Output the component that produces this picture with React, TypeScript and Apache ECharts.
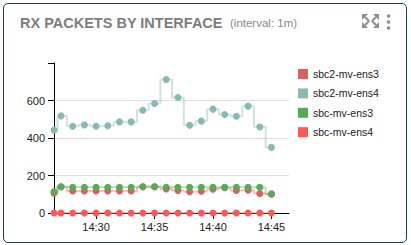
import React, { useEffect, useRef } from "react";
import * as echarts from "echarts";

// ---- data ----
const times = [
  "14:26:24", "14:27", "14:28", "14:29", "14:30", "14:31", "14:32", "14:33", "14:34", "14:35",
  "14:36", "14:37", "14:38", "14:39", "14:40", "14:41", "14:42", "14:43", "14:44", "14:45",
];
const seriesNames = ["sbc2-mv-ens3", "sbc2-mv-ens4", "sbc-mv-ens3", "sbc-mv-ens4"];
const sbc2Ens3 = [105, 140, 117, 117, 117, 117, 117, 117, 140, 140, 128, 120, 113, 116, 127, 135, 120, 122, 104, 100];
const sbc2Ens4 = [442, 518, 463, 470, 463, 465, 486, 486, 548, 584, 712, 616, 468, 490, 554, 525, 516, 570, 459, 350];
const sbcEns3 = [113, 140, 137, 137, 137, 137, 137, 137, 140, 140, 137, 137, 137, 137, 137, 137, 137, 137, 137, 103];
const sbcEns4 = [0, 0, 0, 0, 0, 0, 0, 0, 0, 0, 0, 0, 0, 0, 0, 0, 0, 0, 0, 0];
const yTickLabels = [0, 200, 400, 600];
const xTickLabels = ["14:30", "14:35", "14:40", "14:45"];
const xStart = "14:26:24";
const xEnd = "14:46:30";
const yMax = 800;
const titleText = "RX PACKETS BY INTERFACE";
const subtitleText = "(interval: 1m)";

const colors = ["#d8625e", "#88bab4", "#58a958", "#fd5858"];

function toMin(t: string): number {
  const p = t.split(":").map(Number);
  return p[0] * 60 + p[1] + (p[2] || 0) / 60;
}
function fmtMin(v: number): string {
  const h = Math.floor(v / 60);
  const m = Math.round(v - h * 60);
  return `${h}:${m < 10 ? "0" + m : m}`;
}

export default function App() {
  const ref = useRef<HTMLDivElement>(null);

  useEffect(() => {
    if (!ref.current) return;
    const chart = echarts.init(ref.current, undefined, { renderer: "svg" });
    const allValues = [sbc2Ens3, sbc2Ens4, sbcEns3, sbcEns4];

    const iconColor = "#8e8e8e";
    const corner = (cx: number, cy: number, dx: number, dy: number) => [
      {
        type: "polygon",
        shape: { points: [[cx, cy], [cx - dx * 6, cy], [cx, cy - dy * 6]] },
        style: { fill: iconColor },
      },
      {
        type: "line",
        shape: { x1: cx - dx * 3, y1: cy - dy * 3, x2: cx - dx * 7, y2: cy - dy * 7 },
        style: { stroke: iconColor, lineWidth: 2 },
      },
    ];

    chart.setOption({
      animation: false,
      textStyle: { fontFamily: "Liberation Sans, Arial, sans-serif" },
      grid: { left: 54, right: 122, top: 63, bottom: 32, containLabel: false },
      graphic: [
        {
          type: "text",
          x: 20,
          y: 22.5,
          style: {
            text: titleText,
            font: "bold 14.5px 'Liberation Sans', Arial, sans-serif",
            fill: "#7d7d7d",
            verticalAlign: "middle",
          },
        },
        {
          type: "text",
          x: 230,
          y: 23.3,
          style: {
            text: subtitleText,
            font: "11.5px 'Liberation Sans', Arial, sans-serif",
            fill: "#8a8a8a",
            verticalAlign: "middle",
          },
        },
        ...corner(362, 14, -1, -1),
        ...corner(379, 14, 1, -1),
        ...corner(362, 28, -1, 1),
        ...corner(379, 28, 1, 1),
        { type: "circle", shape: { cx: 388.5, cy: 16, r: 1.8 }, style: { fill: iconColor } },
        { type: "circle", shape: { cx: 388.5, cy: 22, r: 1.8 }, style: { fill: iconColor } },
        { type: "circle", shape: { cx: 388.5, cy: 28, r: 1.8 }, style: { fill: iconColor } },
      ],
      legend: {
        orient: "vertical",
        left: 298,
        top: 68,
        padding: 0,
        icon: "rect",
        itemWidth: 10,
        itemHeight: 10,
        itemGap: 7.4,
        data: seriesNames.map((n, i) => ({ name: n, itemStyle: { color: colors[i] } })),
        textStyle: { fontSize: 10.5, color: "#222", lineHeight: 12, fontFamily: "Liberation Sans, Arial, sans-serif" },
        selectedMode: false,
      },
      xAxis: {
        type: "value",
        min: toMin(xStart),
        max: toMin(xEnd),
        minInterval: 5,
        maxInterval: 5,
        axisLine: { show: true, lineStyle: { color: "#000", width: 1 } },
        axisTick: { show: true, length: 6, lineStyle: { color: "#000" } },
        axisLabel: {
          fontSize: 11,
          color: "#222",
          margin: 8,
          showMinLabel: false,
          showMaxLabel: false,
          formatter: (v: number) => {
            const s = fmtMin(v);
            return Math.abs(v - Math.round(v)) < 1e-6 && xTickLabels.indexOf(s) >= 0 ? s : "";
          },
        },
        splitLine: { show: false },
      },
      yAxis: {
        type: "value",
        min: 0,
        max: yMax,
        interval: 200,
        axisLine: { show: true, lineStyle: { color: "#000", width: 1 } },
        axisTick: { show: true, length: 6, lineStyle: { color: "#000" } },
        axisLabel: {
          fontSize: 11,
          color: "#222",
          margin: 9,
          formatter: (v: number) => (yTickLabels.indexOf(v) >= 0 ? String(v) : ""),
        },
        splitLine: { show: true, showMinLine: false, showMaxLine: false, lineStyle: { color: "#dedede", width: 1 } },
      },
      series: seriesNames.map((name, si) => ({
        name,
        type: "line",
        step: "middle",
        symbol: "circle",
        symbolSize: 7,
        showSymbol: true,
        data: times.map((t, i) => [toMin(t), allValues[si][i]]),
        lineStyle: { color: colors[si], width: 2, opacity: 0.4 },
        itemStyle: { color: colors[si] },
        emphasis: { disabled: true },
      })),
    });
    return () => chart.dispose();
  }, []);

  return (
    <div style={{ position: "absolute", left: 0, top: 0, width: 411, height: 245, background: "#fff" }}>
      <div
        style={{
          position: "absolute",
          left: 3,
          top: 3,
          width: 404,
          height: 240,
          boxSizing: "border-box",
          border: "1.5px solid #1d3c69",
          borderRadius: 5,
        }}
      />
      <div ref={ref} style={{ position: "absolute", left: 0, top: 0, width: 411, height: 245 }} />
    </div>
  );
}
